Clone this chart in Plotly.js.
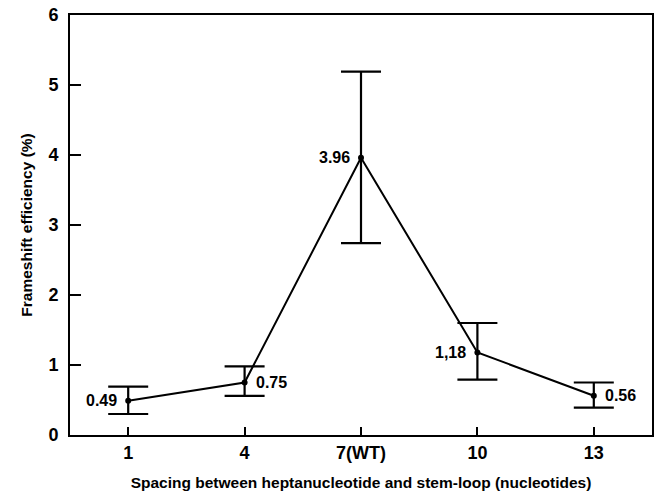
<!DOCTYPE html>
<html>
<head>
<meta charset="utf-8">
<script src="https://cdn.plot.ly/plotly-3.0.1.min.js"></script>
<style>html,body{margin:0;padding:0;background:#fff;}#chart{width:657px;height:494px;}</style>
</head>
<body>
<div id="chart"></div>
<script>
var spacing = [1, 4, 7, 10, 13];
var tickLabels = ['1', '4', '7(WT)', '10', '13'];
var efficiency = [0.49, 0.75, 3.96, 1.18, 0.56];
var errPlus = [0.20, 0.23, 1.23, 0.42, 0.19];
var errMinus = [0.19, 0.19, 1.22, 0.39, 0.17];
var pointLabels = ['0.49', '0.75', '3.96', '1,18', '0.56'];
var labelSide = ['left', 'right', 'left', 'left', 'right'];

var FONT = 'Liberation Sans, Arial, sans-serif';

var trace = {
  x: spacing,
  y: efficiency,
  mode: 'lines+markers',
  type: 'scatter',
  line: {color: '#000', width: 2},
  marker: {color: '#000', size: 6},
  error_y: {type: 'data', symmetric: false, array: errPlus, arrayminus: errMinus,
            color: '#000', thickness: 2.2, width: 20},
  hoverinfo: 'none'
};

var annotations = spacing.map(function (x, i) {
  var left = labelSide[i] === 'left';
  return {
    x: x, y: efficiency[i], xref: 'x', yref: 'y',
    text: pointLabels[i], showarrow: false,
    xanchor: left ? 'right' : 'left', yanchor: 'middle',
    xshift: left ? -9 : 9,
    font: {family: FONT, size: 16, color: '#000', weight: 'bold'}
  };
});

var layout = {
  width: 657, height: 494,
  margin: {l: 70, r: 5, t: 15, b: 59},
  paper_bgcolor: '#fff', plot_bgcolor: '#fff',
  showlegend: false,
  font: {family: FONT, color: '#000'},
  annotations: annotations,
  xaxis: {
    range: [-0.5, 14.5],
    tickvals: spacing, ticktext: tickLabels,
    ticks: 'inside', ticklen: 8, tickwidth: 2, tickcolor: '#000',
    showline: true, linecolor: '#000', linewidth: 2, mirror: true,
    showgrid: false, zeroline: false,
    tickfont: {size: 18, family: FONT, weight: 'bold'},
    title: {text: '<b>Spacing between heptanucleotide and stem-loop (nucleotides)</b>',
            font: {size: 15.5}, standoff: 16}
  },
  yaxis: {
    range: [0, 6],
    tickvals: [0, 1, 2, 3, 4, 5, 6],
    ticks: 'inside', ticklen: 11, tickwidth: 2, tickcolor: '#000',
    ticklabelstandoff: 6,
    showline: true, linecolor: '#000', linewidth: 2, mirror: true,
    showgrid: false, zeroline: false,
    tickfont: {size: 18, family: FONT, weight: 'bold'},
    title: {text: '<b>Frameshift efficiency (%)</b>', font: {size: 15.5}, standoff: 12}
  }
};

Plotly.newPlot('chart', [trace], layout, {displayModeBar: false, staticPlot: true});
</script>
</body>
</html>
